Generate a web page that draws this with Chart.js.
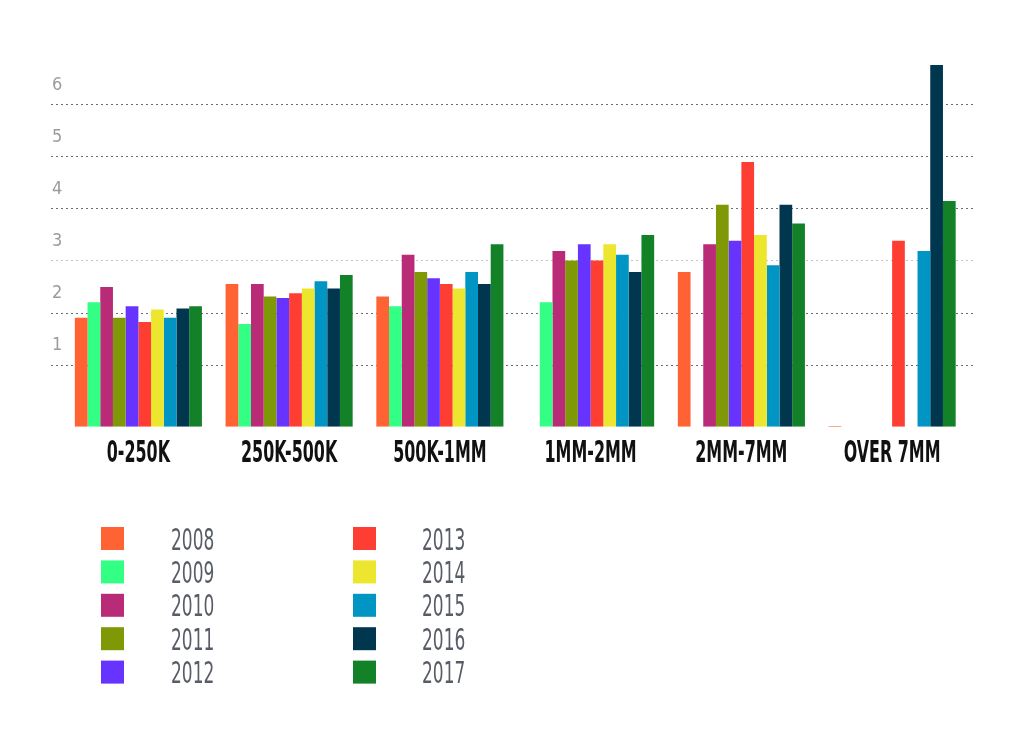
<!DOCTYPE html>
<html>
<head>
<meta charset="utf-8">
<title>Bars by size band, 2008-2017</title>
<script src="https://cdn.jsdelivr.net/npm/chart.js@4.4.1/dist/chart.umd.min.js"></script>
<style>
  html, body { margin: 0; padding: 0; background: #fff; }
  #wrap { position: relative; width: 1024px; height: 747px; }
</style>
</head>
<body>
<div id="wrap"><canvas id="chart"></canvas></div>
<script>
const categories = ["0-250K", "250K-500K", "500K-1MM", "1MM-2MM", "2MM-7MM", "OVER 7MM"];
const years = ["2008", "2009", "2010", "2011", "2012", "2013", "2014", "2015", "2016", "2017"];
const colours = ["#ff6233", "#33ff85", "#ba2b77", "#7e9905", "#6633ff",
                 "#ff3e33", "#ede62e", "#0095c3", "#00374f", "#128128"];

// one list per year, in category order (null = no bar)
const v2008 = [1.90, 2.55, 2.31, null, 2.78, -0.175];
const v2009 = [2.20, 1.78, 2.12, 2.20, null, null];
const v2010 = [2.49, 2.55, 3.11, 3.18, 3.31, null];
const v2011 = [1.90, 2.31, 2.78, 3.00, 4.07, null];
const v2012 = [2.12, 2.28, 2.66, 3.31, 3.38, null];
const v2013 = [1.82, 2.37, 2.55, 3.00, 4.89, 3.38];
const v2014 = [2.06, 2.46, 2.46, 3.31, 3.49, null];
const v2015 = [1.90, 2.60, 2.78, 3.11, 2.91, 3.18];
const v2016 = [2.08, 2.46, 2.55, 2.78, 4.07, 6.75];
const v2017 = [2.12, 2.72, 3.31, 3.49, 3.71, 4.14];
const series = [v2008, v2009, v2010, v2011, v2012, v2013, v2014, v2015, v2016, v2017];

const yTicks = [1, 2, 3, 4, 5, 6];
const gridShades = ["#6e6e6e", "#6e6e6e", "#c4c4c4", "#6e6e6e", "#6e6e6e", "#6e6e6e"];
const yMin = -0.19;
const yMax = 7;

const narrow = "'Liberation Sans Narrow', 'DejaVu Sans Condensed', sans-serif";

// dotted grid that runs a little past the plot on both sides
const dottedGrid = {
  id: "dottedGrid",
  beforeDatasetsDraw(chart) {
    const { ctx, chartArea, scales } = chart;
    ctx.save();
    ctx.setLineDash([2, 3]);
    ctx.lineWidth = 1;
    scales.y.ticks.forEach((t, i) => {
      const py = Math.round(scales.y.getPixelForValue(t.value)) + 0.5;
      ctx.strokeStyle = gridShades[i];
      ctx.beginPath();
      ctx.moveTo(chartArea.left - 12, py);
      ctx.lineTo(chartArea.right + 7, py);
      ctx.stroke();
    });
    ctx.restore();
  },
};

// squeezed category names under each group (no condensed bold face installed)
const narrowLabels = {
  id: "narrowLabels",
  afterDraw(chart) {
    const { ctx, scales } = chart;
    ctx.save();
    ctx.fillStyle = "#111";
    ctx.textAlign = "center";
    ctx.textBaseline = "alphabetic";
    ctx.font = "bold 30px " + narrow;
    chart.data.labels.forEach((lab, i) => {
      ctx.save();
      ctx.translate(scales.x.getPixelForValue(i), 462);
      ctx.scale(0.59, 1);
      ctx.fillText(lab, 0, 0);
      ctx.restore();
    });
    ctx.restore();
  },
};

// two-column legend below the axis
const columnLegend = {
  id: "columnLegend",
  afterDraw(chart) {
    const { ctx } = chart;
    const swatchX = [101, 353];
    const textX = [171, 422];
    ctx.save();
    chart.data.datasets.forEach((ds, i) => {
      const col = Math.floor(i / 5);
      const row = i % 5;
      const top = 527 + row * 33.4;
      ctx.fillStyle = ds.backgroundColor;
      ctx.fillRect(swatchX[col], top, 23, 23);
      ctx.save();
      ctx.translate(textX[col], top + 22.5);
      ctx.scale(0.63, 1);
      ctx.font = "30px " + narrow;
      ctx.fillStyle = "#575c66";
      ctx.textBaseline = "alphabetic";
      ctx.fillText(ds.label, 0, 0);
      ctx.restore();
    });
    ctx.restore();
  },
};

new Chart(document.getElementById("chart"), {
  type: "bar",
  data: {
    labels: categories,
    datasets: series.map((values, i) => ({
      label: years[i],
      data: values,
      base: yMin,
      backgroundColor: colours[i],
      borderWidth: 0,
      barPercentage: 1,
      categoryPercentage: 0.843,
    })),
  },
  options: {
    responsive: true,
    maintainAspectRatio: false,
    animation: false,
    layout: { padding: { left: 52, right: 56.5, top: 52, bottom: 0 } },
    plugins: {
      legend: { display: false },
      tooltip: { enabled: false },
    },
    scales: {
      x: {
        grid: { display: false },
        border: { display: false },
        afterFit: (s) => { s.height = 320.3; },
        ticks: { display: false },
      },
      y: {
        min: yMin,
        max: yMax,
        afterBuildTicks: (s) => { s.ticks = yTicks.map((v) => ({ value: v })); },
        afterFit: (s) => { s.width = 11; },
        grid: { display: false },
        border: { display: false },
        ticks: {
          color: "#9b9b9b",
          crossAlign: "far",
          labelOffset: -19,
          padding: 0,
          font: { family: narrow, size: 18 },
        },
      },
    },
  },
  plugins: [dottedGrid, narrowLabels, columnLegend],
});
</script>
</body>
</html>
